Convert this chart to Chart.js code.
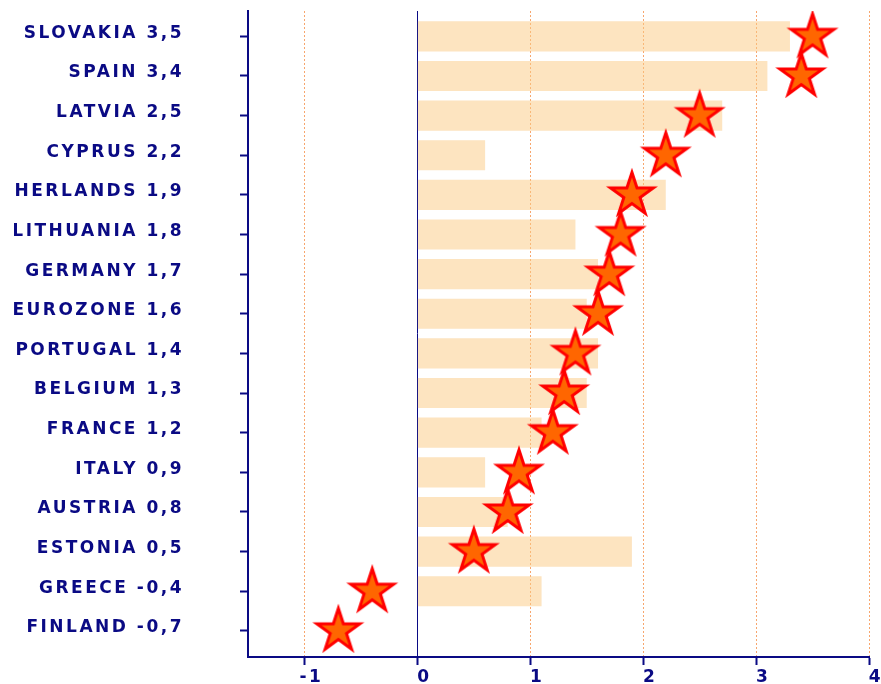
<!DOCTYPE html>
<html>
<head>
<meta charset="utf-8">
<script src="https://cdn.jsdelivr.net/npm/chart.js@4/dist/chart.umd.min.js"></script>
<style>
  html, body { margin: 0; padding: 0; background: #fff; }
  body { width: 881px; height: 684px; position: relative; overflow: hidden; }
  #wrap { position: absolute; left: 14px; top: 0; width: 867px; height: 684px; }
</style>
</head>
<body>
<div id="wrap"><canvas id="inflation"></canvas></div>
<script>
const countries = ['SLOVAKIA', 'SPAIN', 'LATVIA', 'CYPRUS', 'NETHERLANDS', 'LITHUANIA', 'GERMANY', 'EUROZONE',
                   'PORTUGAL', 'BELGIUM', 'FRANCE', 'ITALY', 'AUSTRIA', 'ESTONIA', 'GREECE', 'FINLAND'];
// star values (also printed next to the country name)
const starValues = [3.5, 3.4, 2.5, 2.2, 1.9, 1.8, 1.7, 1.6, 1.4, 1.3, 1.2, 0.9, 0.8, 0.5, -0.4, -0.7];
// background bars, FINLAND has none
const barValues = [3.3, 3.1, 2.7, 0.6, 2.2, 1.4, 1.6, 1.5, 1.6, 1.5, 1.1, 0.6, 0.8, 1.9, 1.1, null];
const xTicks = [-1, 0, 1, 2, 3, 4];

const labels = countries.map((c, i) => `${c} ${starValues[i].toFixed(1).replace('.', ',')}`);

const NAVY = '#0a0a84';
const font = { family: 'DejaVu Sans', weight: 'bold', size: 17 };

// filled five point star used as point style
function makeStar() {
  const c = document.createElement('canvas');
  c.width = 56; c.height = 56;
  const g = c.getContext('2d');
  const R = 22.5, r = R * 0.382;
  g.beginPath();
  for (let k = 0; k < 10; k++) {
    const rad = k % 2 ? r : R;
    const a = -Math.PI / 2 + k * Math.PI / 5;
    g.lineTo(28 + rad * Math.cos(a), 28 + rad * Math.sin(a));
  }
  g.closePath();
  g.fillStyle = '#ff6600';
  g.fill();
  g.lineWidth = 3;
  g.lineJoin = 'miter';
  g.strokeStyle = '#ff0000';
  g.stroke();
  return c;
}

const spacing = {
  id: 'spacing',
  beforeDraw(chart) { chart.ctx.letterSpacing = '2.5px'; }
};

// keep tick padding from eating into the plot area
function noPad(s) {
  s.paddingTop = 0; s.paddingBottom = 0;
  s.paddingLeft = 0; s.paddingRight = 0;
}

new Chart(document.getElementById('inflation'), {
  type: 'bar',
  data: {
    datasets: [
      {
        type: 'scatter',
        data: starValues.map((v, i) => ({ x: v, y: i })),
        pointStyle: makeStar(),
        pointRadius: 22,
        order: 0
      },
      {
        type: 'bar',
        data: barValues.map((v, i) => ({ x: v, y: i })).filter(d => d.x !== null),
        backgroundColor: 'rgba(251, 202, 130, 0.5)',
        barPercentage: 0.76,
        categoryPercentage: 1,
        order: 1
      }
    ]
  },
  options: {
    indexAxis: 'y',
    responsive: true,
    maintainAspectRatio: false,
    animation: false,
    layout: { autoPadding: false, padding: { top: 11, right: 12, left: 0, bottom: 0 } },
    plugins: { legend: { display: false }, tooltip: { enabled: false } },
    scales: {
      x: {
        type: 'linear',
        min: -1.5,
        max: 4,
        afterBuildTicks: s => { s.ticks = xTicks.map(v => ({ value: v })); },
        afterFit: s => { s.height = 27; noPad(s); },
        ticks: { color: NAVY, font: font, padding: 2, labelOffset: 7, maxRotation: 0 },
        grid: {
          color: c => (c.tick && c.tick.value === 0) ? NAVY : '#f7a66e',
          lineWidth: 1,
          tickColor: NAVY,
          tickLength: 8,
          tickWidth: 2
        },
        border: {
          color: NAVY,
          width: 2,
          dash: c => (c.tick && c.tick.value !== 0) ? [2, 2] : []
        }
      },
      y: {
        type: 'linear',
        reverse: true,
        offset: false,
        min: -0.64,
        max: 15.66,
        afterBuildTicks: s => { s.ticks = labels.map((_, i) => ({ value: i })); },
        afterFit: s => { s.width = 234; noPad(s); },
        ticks: {
          color: NAVY,
          font: font,
          padding: 56,
          labelOffset: -3,
          autoSkip: false,
          callback: v => labels[v]
        },
        grid: {
          offset: false,
          drawOnChartArea: false,
          tickColor: NAVY,
          tickLength: 8,
          tickWidth: 2
        },
        border: { color: NAVY, width: 2 }
      }
    }
  },
  plugins: [spacing]
});
</script>
</body>
</html>
